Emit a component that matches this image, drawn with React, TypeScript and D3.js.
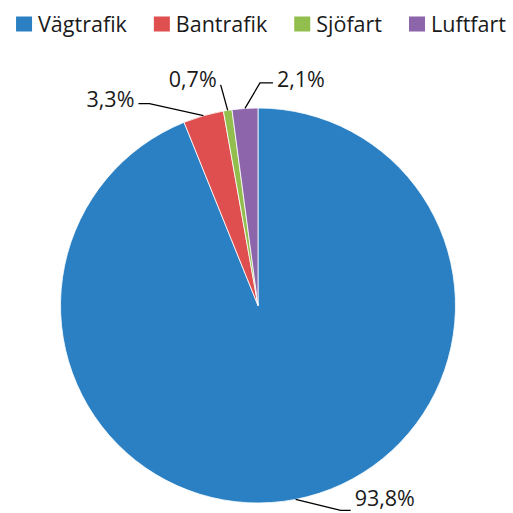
import React, { useEffect, useRef } from "react";
import * as d3 from "d3";

const categories = ["Vägtrafik", "Bantrafik", "Sjöfart", "Luftfart"];
const values = [93.8, 3.3, 0.7, 2.1];
const labels = ["93,8%", "3,3%", "0,7%", "2,1%"];
const colors = ["#2A80C2", "#E04F4F", "#92BE4E", "#8C65AA"];

// leader layout: elbow & end offsets relative to slice edge point, text side, baseline offset
const leaderLayout = [
  { elbow: [45, 11], end: [55, 11], side: "right", ty: -4.5 },
  { elbow: [-54, -12], end: [-65, -12], side: "left", ty: 3 },
  { elbow: [-7, -25.5], end: [-7, -25.5], side: "left", ty: 2 },
  { elbow: [15, -25.5], end: [28, -25.5], side: "right", ty: 4 },
];

const W = 513;
const H = 513;
const FONT = "'Open Sans', sans-serif";
const FS = 21.5;

export default function App() {
  const ref = useRef<SVGSVGElement>(null);

  useEffect(() => {
    const svg = d3.select(ref.current);
    svg.selectAll("*").remove();

    const cx = 258;
    const cy = 305.5;
    const r = 197.5;

    const pie = d3
      .pie<number>()
      .sort(null)
      .value((d) => d)
      .startAngle(0)
      .endAngle(Math.PI * 2);
    const arcs = pie(values);
    const arc = d3.arc<d3.PieArcDatum<number>>().innerRadius(0).outerRadius(r);

    const g = svg.append("g").attr("transform", `translate(${cx},${cy})`);
    g.selectAll("path")
      .data(arcs)
      .join("path")
      .attr("d", arc)
      .attr("fill", (_, i) => colors[i])
      .attr("stroke", "#ffffff")
      .attr("stroke-width", 0.8);

    // labels
    arcs.forEach((a, i) => {
      const mid = (a.startAngle + a.endAngle) / 2;
      const ex = Math.sin(mid) * r;
      const ey = -Math.cos(mid) * r;
      const L = leaderLayout[i];
      const bx = ex + L.elbow[0];
      const by = ey + L.elbow[1];
      const qx = ex + L.end[0];
      const qy = ey + L.end[1];
      g.append("polyline")
        .attr("points", `${ex},${ey} ${bx},${by} ${qx},${qy}`)
        .attr("fill", "none")
        .attr("stroke", "#000")
        .attr("stroke-width", 1.3);
      g.append("text")
        .attr("x", L.side === "right" ? qx + 4 : qx - 4)
        .attr("y", qy + L.ty)
        .attr("text-anchor", L.side === "right" ? "start" : "end")
        .attr("font-family", FONT)
        .attr("font-size", FS)
        .attr("fill", "#1a1a1a")
        .text(labels[i]);
    });

    // legend
    const lg = svg.append("g");
    const items = lg
      .selectAll("g")
      .data(categories)
      .join("g");
    items
      .append("rect")
      .attr("width", 16)
      .attr("height", 15)
      .attr("y", -7.5)
      .attr("fill", (_, i) => colors[i]);
    const texts = items
      .append("text")
      .attr("x", 22)
      .attr("y", 8)
      .attr("font-family", FONT)
      .attr("font-size", FS)
      .attr("fill", "#1a1a1a")
      .text((d) => d);
    const widths: number[] = [];
    texts.each(function () {
      widths.push((this as SVGTextElement).getComputedTextLength());
    });
    const gap = 27;
    const itemW = widths.map((w) => 22 + w);
    const total = d3.sum(itemW) + gap * (itemW.length - 1);
    let x = 261 - total / 2;
    items.attr("transform", (_, i) => {
      const t = `translate(${x},24)`;
      x += itemW[i] + gap;
      return t;
    });
  }, []);

  return (
    <svg
      ref={ref}
      width={W}
      height={H}
      style={{ position: "absolute", left: 0, top: 0, background: "#fff" }}
    />
  );
}
